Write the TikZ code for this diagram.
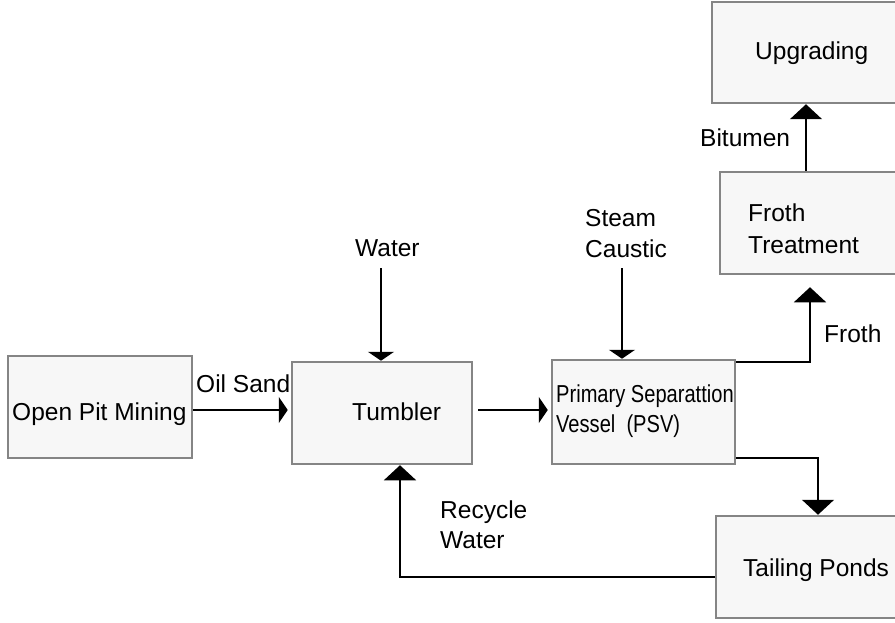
\documentclass[tikz,border=0pt]{standalone}
\usepackage{fontspec}
\setmainfont{Liberation Sans}
\usepackage{graphicx}
\usetikzlibrary{arrows.meta}
\definecolor{boxfill}{HTML}{F7F7F7}
\definecolor{boxline}{HTML}{858585}
\begin{document}
\begin{tikzpicture}[x=1pt,y=-1pt,
  box/.style={draw=boxline, line width=2.5pt, fill=boxfill, inner sep=0pt},
  lbl/.style={font=\fontsize{24.5}{32}\selectfont, inner sep=0pt, anchor=base west},
  conn/.style={line width=1.6pt, draw=black},
  smalltip/.style={-{Triangle[width=26pt,length=9pt]}},
  bigtip/.style={-{Triangle[width=32pt,length=15pt]}}]
\useasboundingbox (0,0) rectangle (895,623);
\clip (0,0) rectangle (895,623);
\fill[white] (0,0) rectangle (895,623);

% boxes
\node[box, minimum width=184pt, minimum height=102pt] (opm) at (100,407) {};
\node[box, minimum width=180pt, minimum height=102pt] (tum) at (382,413) {};
\node[box, minimum width=183pt, minimum height=104pt] (psv) at (643.5,412) {};
\node[box, minimum width=181pt, minimum height=102pt] (tp) at (806.5,567) {};
\node[box, minimum width=177pt, minimum height=102pt] (ft) at (808.5,223) {};
\node[box, minimum width=185pt, minimum height=101pt] (up) at (804.5,52.5) {};

% box texts
\node[lbl] (topm) at (12,420) {Open Pit Mining};
\node[lbl] (ttum) at (352,420) {Tumbler};
\node[lbl] (tpsv1) at (556,402) {\scalebox{0.82}[1]{Primary Separattion}};
\node[lbl] (tpsv2) at (556,432) {\scalebox{0.82}[1]{Vessel\ \ (PSV)}};
\node[lbl] (ttp) at (743,576) {Tailing Ponds};
\node[lbl] (tft1) at (748,222) {Froth};
\node[lbl] (tft2) at (748,253) {Treatment};
\node[lbl] (tup) at (755,60) {Upgrading};

% labels
\node[lbl] (loil) at (196,392) {Oil Sand};
\node[lbl] (lwater) at (355,256) {Water};
\node[lbl] (lsteam) at (585,226) {Steam};
\node[lbl] (lcaustic) at (585,258) {Caustic};
\node[lbl] (lbit) at (700,147) {Bitumen};
\node[lbl] (lfroth) at (824,342) {Froth};
\node[lbl] (lrec1) at (440,518) {Recycle};
\node[lbl] (lrec2) at (440,548) {Water};

% free ends
\coordinate (wtop) at (381,268);
\coordinate (stop) at (622,268);

% connectors
\draw[conn, smalltip, shorten >=3pt] (opm.east |- 0,410) -- (tum.west |- 0,410);
\draw[conn, smalltip, shorten <=5pt, shorten >=3pt] (tum.east |- 0,410) -- (psv.west |- 0,410);
\draw[conn, smalltip] (wtop) -- (wtop |- tum.north);
\draw[conn, smalltip] (stop) -- (stop |- psv.north);
\draw[conn, bigtip] ([yshift=-3pt]psv.north east) -| ([xshift=1.5pt,yshift=-12pt]ft.south);
\draw[conn, bigtip] (ft.north -| 806,0) -- (806,0 |- up.south);
\draw[conn, bigtip] ([yshift=7pt]psv.south east) -| ([xshift=11.5pt]tp.north);
\draw[conn, bigtip] ([yshift=-10pt]tp.west) -| ([xshift=18pt]tum.south);
\end{tikzpicture}
\end{document}
